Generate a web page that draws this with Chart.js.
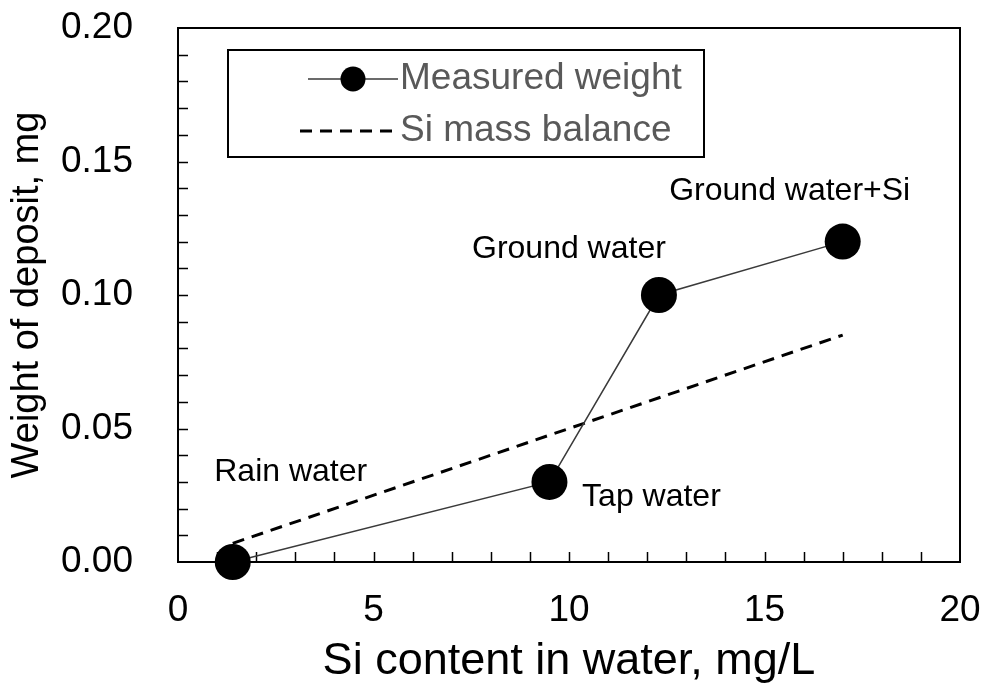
<!DOCTYPE html>
<html>
<head>
<meta charset="utf-8">
<script src="https://cdn.jsdelivr.net/npm/chart.js@4.4.1/dist/chart.umd.min.js"></script>
<style>
  html, body { margin: 0; padding: 0; background: #fff; }
  #wrap { width: 984px; height: 686px; }
</style>
</head>
<body>
<div id="wrap"><canvas id="chart" width="984" height="686"></canvas></div>
<script>
// Si content (mg/L) and weight of deposit (mg) for each water sample
const sampleNames = ["Rain water", "Tap water", "Ground water", "Ground water+Si"];
const siContent = [1.4, 9.5, 12.3, 17.0];
const depositWeight = [0.0, 0.03, 0.10, 0.12];

// Si mass balance line (end points)
const balanceSi = [1.4, 17.0];
const balanceWeight = [0.007, 0.085];

const xTicks = [0, 5, 10, 15, 20];
const yTicks = [0.0, 0.05, 0.10, 0.15, 0.20];

const FONT = "'Liberation Sans', Arial, sans-serif";

// label placement next to each point (pixels)
const labelOffsets = [[58, -90], [102, 15], [-90, -46], [-53, -50]];

const measured = siContent.map((x, i) => ({ x: x, y: depositWeight[i] }));
const balance = balanceSi.map((x, i) => ({ x: x, y: balanceWeight[i] }));

// frame, inward ticks, point labels and boxed legend
const decorations = {
  id: "decorations",
  beforeDatasetsDraw(chart) {
    const ctx = chart.ctx;
    const area = chart.chartArea;
    const xs = chart.scales.x;
    const ys = chart.scales.y;
    ctx.save();
    ctx.strokeStyle = "#000";
    ctx.lineWidth = 2;
    ctx.strokeRect(area.left, area.top, area.right - area.left, area.bottom - area.top);

    ctx.lineWidth = 1.5;
    ctx.beginPath();
    for (let v = 1; v < 20; v++) {
      const px = Math.round(xs.getPixelForValue(v)) + 0.5;
      ctx.moveTo(px, area.bottom);
      ctx.lineTo(px, area.bottom - 10);
    }
    for (let k = 1; k < 20; k++) {
      const py = Math.round(ys.getPixelForValue(k / 100)) + 0.5;
      ctx.moveTo(area.left, py);
      ctx.lineTo(area.left + 10, py);
    }
    ctx.stroke();
    ctx.restore();
  },
  afterDatasetsDraw(chart) {
    const ctx = chart.ctx;
    const xs = chart.scales.x;
    const ys = chart.scales.y;
    ctx.save();

    // sample names
    ctx.fillStyle = "#000";
    ctx.font = "32px " + FONT;
    ctx.textAlign = "center";
    ctx.textBaseline = "middle";
    measured.forEach((p, i) => {
      const px = xs.getPixelForValue(p.x) + labelOffsets[i][0];
      const py = ys.getPixelForValue(p.y) + labelOffsets[i][1];
      ctx.fillText(sampleNames[i], px, py);
    });

    // legend box
    const lx = 228, ly = 50, lw = 476, lh = 107;
    ctx.fillStyle = "#fff";
    ctx.fillRect(lx, ly, lw, lh);
    ctx.strokeStyle = "#000";
    ctx.lineWidth = 2;
    ctx.strokeRect(lx, ly, lw, lh);

    const m = chart.data.datasets[0];
    ctx.strokeStyle = m.borderColor;
    ctx.lineWidth = m.borderWidth;
    ctx.beginPath();
    ctx.moveTo(308, 79);
    ctx.lineTo(398, 79);
    ctx.stroke();
    ctx.fillStyle = "#000";
    ctx.beginPath();
    ctx.arc(353, 79, 12.5, 0, Math.PI * 2);
    ctx.fill();

    const b = chart.data.datasets[1];
    ctx.strokeStyle = b.borderColor;
    ctx.lineWidth = b.borderWidth;
    ctx.setLineDash(b.borderDash);
    ctx.beginPath();
    ctx.moveTo(300, 131);
    ctx.lineTo(392, 131);
    ctx.stroke();
    ctx.setLineDash([]);

    ctx.fillStyle = "#595959";
    ctx.font = "37px " + FONT;
    ctx.textAlign = "left";
    ctx.fillText(m.label, 400, 79);
    ctx.fillText(b.label, 400, 131);
    ctx.restore();
  }
};

new Chart(document.getElementById("chart"), {
  type: "scatter",
  data: {
    datasets: [
      {
        label: "Measured weight",
        data: measured,
        showLine: true,
        clip: false,
        borderColor: "#3a3a3a",
        borderWidth: 1.5,
        pointRadius: 18,
        pointHoverRadius: 18,
        pointBackgroundColor: "#000",
        pointBorderColor: "#000",
        pointBorderWidth: 0
      },
      {
        label: "Si mass balance",
        data: balance,
        showLine: true,
        borderColor: "#000",
        borderWidth: 3,
        borderDash: [12, 8],
        pointRadius: 0
      }
    ]
  },
  options: {
    responsive: false,
    animation: false,
    layout: { padding: { top: 28, right: 24, left: 0, bottom: 0 } },
    plugins: { legend: { display: false }, tooltip: { enabled: false } },
    scales: {
      x: {
        type: "linear",
        min: 0,
        max: 20,
        afterBuildTicks(scale) { scale.ticks = xTicks.map(v => ({ value: v })); },
        afterFit(scale) {
          scale.height = 124;
          scale.paddingLeft = 0;
          scale.paddingRight = 0;
        },
        grid: { display: false, drawTicks: false },
        border: { display: false },
        ticks: { font: { family: FONT, size: 37 }, color: "#000", padding: 27 },
        title: {
          display: true,
          text: "Si content in water, mg/L",
          font: { family: FONT, size: 45, lineHeight: 1 },
          color: "#000",
          padding: { top: 0, bottom: 2 }
        }
      },
      y: {
        type: "linear",
        min: 0,
        max: 0.2,
        afterBuildTicks(scale) { scale.ticks = yTicks.map(v => ({ value: v })); },
        afterFit(scale) {
          scale.width = 178;
          scale.paddingTop = 0;
          scale.paddingBottom = 0;
        },
        grid: { display: false, drawTicks: false },
        border: { display: false },
        ticks: {
          font: { family: FONT, size: 37 },
          color: "#000",
          padding: 45,
          callback: v => v.toFixed(2)
        },
        title: {
          display: true,
          text: "Weight of deposit, mg",
          font: { family: FONT, size: 38, lineHeight: 1.2 },
          color: "#000",
          padding: { top: 5, bottom: 0 }
        }
      }
    }
  },
  plugins: [decorations]
});
</script>
</body>
</html>
